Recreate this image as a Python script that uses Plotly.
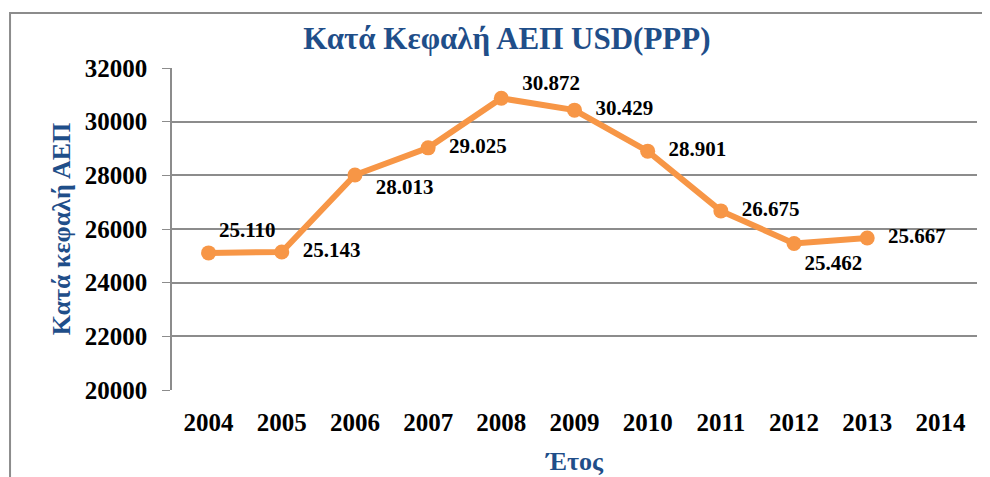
import plotly.graph_objects as go

years = ["2004", "2005", "2006", "2007", "2008", "2009", "2010", "2011", "2012", "2013", "2014"]
gdp_years = ["2004", "2005", "2006", "2007", "2008", "2009", "2010", "2011", "2012", "2013"]
gdp_values = [25110, 25143, 28013, 29025, 30872, 30429, 28901, 26675, 25462, 25667]
label_pos = ["top right", "middle right", "middle right", "middle right", "middle right",
             "middle right", "middle right", "middle right", "bottom right", "middle right"]
label_pad = ["", "  ", "  ", "  ", "  ", "  ", "  ", "  ", "", "  "]
# nudge a label half a line up or down (+1 / -1)
label_nudge = [0, 0, -1, 0, 1, 0, 0, 0, 0, 0]

SERIF = "Liberation Serif, Times New Roman, serif"
BLUE = "#1F4E89"
ORANGE = "#F79646"
GRID = "#8C8C8C"


def make_label(v, pad, nudge):
    s = pad + f"{v:,}".replace(",", ".")
    if nudge > 0:
        return s + "<br><span style='font-size:10px'> </span>"
    if nudge < 0:
        return " <br>" + s
    return s


labels = [make_label(v, p, n) for v, p, n in zip(gdp_values, label_pad, label_nudge)]

fig = go.Figure()
fig.add_trace(go.Scatter(
    x=gdp_years,
    y=gdp_values,
    mode="lines+markers+text",
    text=labels,
    textposition=label_pos,
    textfont=dict(family=SERIF, size=21, color="black", weight="bold"),
    line=dict(color=ORANGE, width=6),
    marker=dict(color=ORANGE, size=15),
    cliponaxis=False,
    showlegend=False,
))

# page body adds an 8px offset, so the figure is a little smaller than the window
fig.update_layout(
    template="plotly_white",
    width=982,
    height=469,
    margin=dict(l=164, r=13, t=60, b=87),
    paper_bgcolor="white",
    plot_bgcolor="white",
    title=dict(
        text="<b>Κατά Κεφαλή ΑΕΠ USD(PPP)</b>",
        x=0.508, xanchor="center", y=0.936, yanchor="middle",
        font=dict(family=SERIF, size=31, color=BLUE),
    ),
    xaxis=dict(
        type="category",
        categoryorder="array",
        categoryarray=years,
        range=[-0.5, 10.5],
        showgrid=False,
        showline=False,
        ticks="",
        automargin=False,
        ticklabelstandoff=15,
        tickfont=dict(family=SERIF, size=25, color="black", weight="bold"),
        title=dict(text="<b>Έτος</b>", standoff=16,
                   font=dict(family=SERIF, size=26, color=BLUE)),
    ),
    yaxis=dict(
        range=[20000, 32000],
        dtick=2000,
        tickformat="d",
        showgrid=True,
        gridcolor=GRID,
        gridwidth=1.5,
        zeroline=False,
        showline=True,
        linecolor=GRID,
        linewidth=1.5,
        ticks="outside",
        ticklen=8,
        tickcolor=GRID,
        automargin=False,
        ticklabelstandoff=10,
        tickfont=dict(family=SERIF, size=25, color="black", weight="bold"),
        title=dict(text="<b>Κατά κεφαλή ΑΕΠ</b>", standoff=7,
                   font=dict(family=SERIF, size=26, color=BLUE)),
    ),
)

fig.add_shape(
    type="rect", xref="paper", yref="paper",
    x0=-0.2012, x1=1.2, y0=-0.4, y1=1.1708,
    line=dict(color=GRID, width=2),
    layer="below",
)

fig.write_html("out.html")
